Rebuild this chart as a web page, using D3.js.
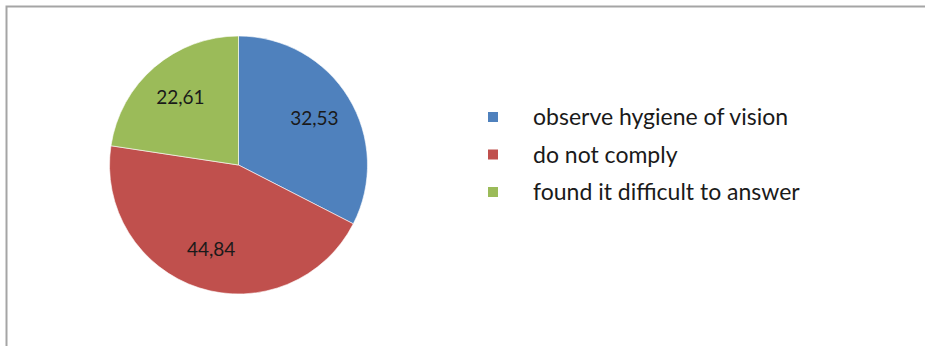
<!DOCTYPE html>
<html>
<head>
<meta charset="utf-8">
<script src="https://cdn.jsdelivr.net/npm/d3@7"></script>
<style>
  html, body { margin: 0; padding: 0; background: #fff; }
  svg { display: block; }
</style>
</head>
<body>
<div id="chart"></div>
<script>
const categories = ['observe hygiene of vision', 'do not comply', 'found it difficult to answer'];
const values = [32.53, 44.84, 22.61];
const valueLabels = ['32,53', '44,84', '22,61'];
const colors = ['#4f81bd', '#c0504d', '#9bbb59'];

const width = 925,
  height = 346,
  center = { x: 238.5, y: 165 },
  radius = 129,
  fontFamily = 'Lato, "Open Sans", sans-serif';

const svg = d3.select('#chart')
  .append('svg')
  .attr('width', width)
  .attr('height', height);

// chart frame, runs off the right and bottom edges
svg.append('rect')
  .attr('x', 6.5)
  .attr('y', 6.5)
  .attr('width', width + 20)
  .attr('height', height + 20)
  .attr('fill', 'none')
  .attr('stroke', '#a5a5a5')
  .attr('stroke-width', 2);

const pie = d3.pie().sort(null).value(d => d);
const arcs = pie(values);

const arc = d3.arc().innerRadius(0).outerRadius(radius);
const labelArc = d3.arc().innerRadius(radius * 0.69).outerRadius(radius * 0.69);

const g = svg.append('g')
  .attr('transform', `translate(${center.x},${center.y})`);

g.selectAll('path')
  .data(arcs)
  .enter()
  .append('path')
  .attr('d', arc)
  .attr('fill', (d, i) => colors[i])
  .attr('stroke', '#ffffff')
  .attr('stroke-width', 0.6);

g.selectAll('text')
  .data(arcs)
  .enter()
  .append('text')
  .attr('transform', d => `translate(${labelArc.centroid(d)})`)
  .attr('text-anchor', 'middle')
  .attr('dy', '0.35em')
  .attr('font-family', fontFamily)
  .attr('font-size', 19)
  .attr('fill', '#1a1a1a')
  .text((d, i) => valueLabels[i]);

const legend = svg.append('g')
  .attr('transform', 'translate(488,117)');

const rows = legend.selectAll('g')
  .data(categories)
  .enter()
  .append('g')
  .attr('transform', (d, i) => `translate(0,${i * 37.5})`);

rows.append('rect')
  .attr('x', 0)
  .attr('y', -5)
  .attr('width', 10)
  .attr('height', 10)
  .attr('fill', (d, i) => colors[i]);

rows.append('text')
  .attr('x', 45)
  .attr('dy', '0.35em')
  .attr('font-family', fontFamily)
  .attr('font-size', 23)
  .attr('fill', '#1a1a1a')
  .text(d => d);
</script>
</body>
</html>
